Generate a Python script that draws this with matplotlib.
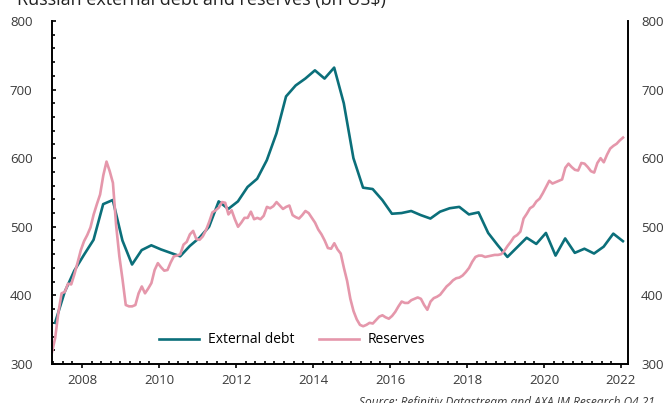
import matplotlib.pyplot as plt
import numpy as np
from matplotlib.ticker import MultipleLocator

plt.rcParams['font.family'] = ['Open Sans', 'DejaVu Sans']

# quarterly external debt, bn US$ (first point ~ Q2 2007)
debt_start = 2007.30
external_debt = [360, 405, 436, 459, 481, 533, 539, 480, 445, 466,
                 473, 467, 462, 457, 472, 484, 500, 537, 526, 537,
                 558, 570, 597, 636, 690, 706, 716, 728, 716, 732,
                 680, 600, 557, 555, 539, 519, 520, 523, 517, 512,
                 522, 527, 529, 518, 521, 491, 473, 456, 470, 484,
                 475, 491, 458, 483, 462, 468, 461, 471, 490, 479]

# monthly reserves, bn US$ (first point ~ Mar 2007)
res_start = 2007.22
reserves = [317, 338, 375, 403, 405, 417, 416, 431, 448, 466,
            479, 488, 499, 518, 533, 547, 575, 595, 581, 564,
            502, 457, 423, 386, 384, 384, 386, 403, 413, 403,
            410, 418, 437, 447, 441, 436, 437, 448, 457, 458,
            460, 474, 478, 489, 494, 482, 481, 486, 495, 507,
            521, 524, 528, 536, 535, 518, 524, 511, 500, 506,
            513, 513, 522, 511, 513, 511, 516, 529, 527, 530,
            536, 531, 526, 529, 531, 517, 514, 512, 517, 523,
            520, 513, 506, 496, 489, 480, 469, 468, 476, 467,
            461, 440, 421, 395, 377, 365, 357, 355, 357, 360,
            359, 364, 369, 371, 368, 366, 370, 376, 384, 391,
            389, 389, 393, 395, 397, 395, 386, 379, 391, 396,
            398, 401, 407, 413, 417, 422, 425, 426, 429, 434,
            440, 449, 456, 458, 458, 456, 457, 458, 459, 459,
            460, 465, 472, 478, 485, 488, 493, 512, 519, 527,
            530, 537, 541, 549, 558, 567, 563, 565, 567, 569,
            586, 592, 587, 583, 582, 593, 592, 587, 581, 579,
            593, 600, 594, 605, 614, 618, 621, 626, 630]

debt_x = debt_start + 0.25 * np.arange(len(external_debt))
res_x = res_start + np.arange(len(reserves)) / 12

teal = '#0b6f7a'
pink = '#e597ab'
grey = '#3a3a3a'

fig = plt.figure(figsize=(6.68, 4.03), dpi=100)
ax = fig.add_axes([0.0778, 0.0968, 0.8622, 0.8512])

ax.plot(debt_x, external_debt, color=teal, lw=1.9, label='External debt')
ax.plot(res_x, reserves, color=pink, lw=1.9, label='Reserves')

ax.set_xlim(2007.22, 2022.18)
ax.set_ylim(300, 800)

ax.spines['top'].set_visible(False)
for s in ['left', 'right', 'bottom']:
    ax.spines[s].set_linewidth(1.4)

ax.xaxis.set_major_locator(MultipleLocator(2))
ax.xaxis.set_minor_locator(MultipleLocator(0.25))
ax.yaxis.set_major_locator(MultipleLocator(100))
ax.yaxis.set_minor_locator(MultipleLocator(20))

ax.tick_params(axis='x', which='major', direction='out', length=3, width=1.2,
               labelsize=9.5, labelcolor=grey, pad=4)
ax.tick_params(axis='x', which='minor', direction='in', length=2, width=1.2)
ax.tick_params(axis='y', which='major', direction='in', length=3, width=1.2,
               labelsize=9.5, labelcolor=grey, pad=14, right=True)
ax.tick_params(axis='y', which='minor', direction='in', length=2, width=1.2, right=True)

# right-hand labels with a tighter pad
ax2 = ax.twinx()
ax2.set_ylim(ax.get_ylim())
ax2.yaxis.set_major_locator(MultipleLocator(100))
ax2.tick_params(axis='y', which='both', length=0, labelsize=9.5, labelcolor=grey, pad=9.5)
for s in ax2.spines.values():
    s.set_visible(False)

ax.legend(loc='center', bbox_to_anchor=(0.417, 0.07), ncol=2, frameon=False,
          fontsize=10, handlelength=2.9, columnspacing=1.8, handletextpad=0.6)

fig.text(0.025, 0.987, 'Russian external debt and reserves (bn US$)',
         fontsize=13, color='#222222', va='baseline', ha='left')
fig.text(0.98, 0.001, 'Source: Refinitiv Datastream and AXA IM Research Q4 21',
         fontsize=8.6, style='italic', color=grey, ha='right', va='center')

fig.savefig('out.png', dpi=100)
